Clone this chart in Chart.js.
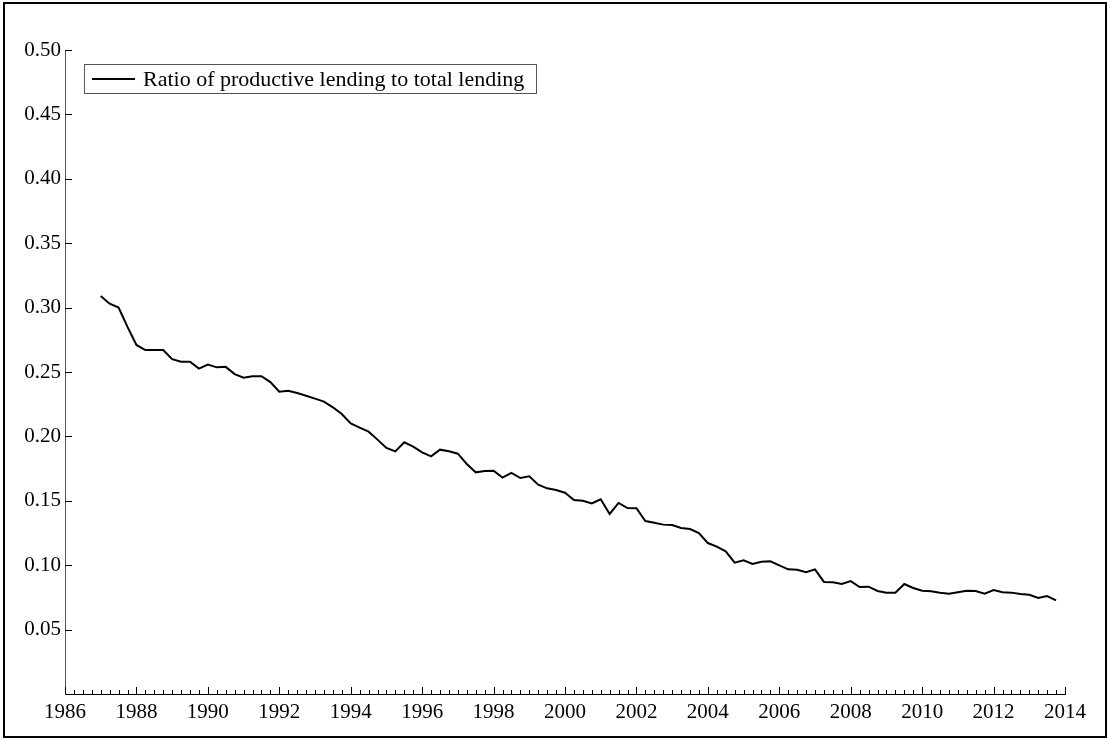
<!DOCTYPE html>
<html>
<head>
<meta charset="utf-8">
<title>Ratio of productive lending</title>
<script src="https://cdn.jsdelivr.net/npm/chart.js@4.4.1/dist/chart.umd.min.js"></script>
<style>
	html, body { margin: 0; padding: 0; background: #fff; }
	#wrap { width: 1110px; height: 740px; }
</style>
</head>
<body>
<div id="wrap"><canvas id="chart" width="1110" height="740"></canvas></div>
<script>
	// Quarterly series, first observation 1987 Q1
	var firstYear = 1987;
	var seriesLabel = 'Ratio of productive lending to total lending';
	var ratio = [
		0.309, 0.303, 0.300, 0.285, 0.271, 0.267, 0.267, 0.267, 0.260, 0.258, 0.258,
		0.2526, 0.2557, 0.2536, 0.254, 0.2484, 0.2456, 0.2467, 0.2467, 0.2422, 0.2347, 0.2355,
		0.2337, 0.2316, 0.2293, 0.2270, 0.2226, 0.2174, 0.2101, 0.2068, 0.2037, 0.1975, 0.1910,
		0.1884, 0.1954, 0.1920, 0.1876, 0.1845, 0.1897, 0.1884, 0.1866, 0.1786, 0.1721,
		0.1731, 0.1734, 0.1680, 0.1716, 0.1677, 0.1690, 0.1625, 0.1597, 0.1584, 0.1563, 0.1506,
		0.1501, 0.1480, 0.1512, 0.1398, 0.1483, 0.1444, 0.1442, 0.1343, 0.1330, 0.1315,
		0.1312, 0.1289, 0.1281, 0.1250, 0.1172, 0.1144, 0.1108, 0.1020, 0.1038, 0.1009, 0.1027,
		0.1030, 0.0999, 0.0968, 0.0965, 0.0945, 0.0968, 0.0870, 0.0867, 0.0854, 0.0877, 0.0831,
		0.0833, 0.0800, 0.0787, 0.0787, 0.0854, 0.0823, 0.0802, 0.0797, 0.0787, 0.0779, 0.0790,
		0.0802, 0.0800, 0.0779, 0.0807, 0.0790, 0.0787, 0.0776, 0.0771, 0.0745, 0.0761, 0.0727
	];
	var xTicks = [1986, 1988, 1990, 1992, 1994, 1996, 1998, 2000, 2002, 2004, 2006, 2008, 2010, 2012, 2014];
	var yTicks = [0.05, 0.10, 0.15, 0.20, 0.25, 0.30, 0.35, 0.40, 0.45, 0.50];

	var fontFamily = '"Liberation Serif", "Times New Roman", serif';

	var points = ratio.map(function(v, i) {
		return { x: firstYear + i / 4, y: v };
	});

	// white page and outer frame
	var framePlugin = {
		id: 'frame',
		beforeDraw: function(chart) {
			var ctx = chart.ctx;
			ctx.save();
			ctx.fillStyle = '#fff';
			ctx.fillRect(0, 0, chart.width, chart.height);
			ctx.restore();
		},
		afterDraw: function(chart) {
			var ctx = chart.ctx;
			ctx.save();
			ctx.strokeStyle = '#000';
			ctx.lineWidth = 2;
			ctx.strokeRect(4, 3, chart.width - 8, chart.height - 6);
			ctx.restore();
		}
	};

	// ticks point into the plot, with quarterly minor ticks on x
	var innerTicks = {
		id: 'innerTicks',
		afterDraw: function(chart) {
			var ctx = chart.ctx;
			var xs = chart.scales.x, ys = chart.scales.y, area = chart.chartArea;
			ctx.save();
			ctx.strokeStyle = '#000';
			ctx.lineWidth = 1;
			ctx.beginPath();
			for (var q = xs.min; q <= xs.max + 1e-9; q += 0.25) {
				var px = Math.round(xs.getPixelForValue(q)) + 0.5;
				var major = Math.abs(q / 2 - Math.round(q / 2)) < 1e-6;
				ctx.moveTo(px, area.bottom);
				ctx.lineTo(px, area.bottom - (major ? 7 : 4));
			}
			yTicks.forEach(function(v) {
				var py = Math.round(ys.getPixelForValue(v)) + 0.5;
				ctx.moveTo(area.left, py);
				ctx.lineTo(area.left + 7, py);
			});
			ctx.stroke();
			ctx.restore();
		}
	};

	// boxed legend in the upper left of the plot
	var boxLegend = {
		id: 'boxLegend',
		afterDraw: function(chart) {
			var ctx = chart.ctx, area = chart.chartArea;
			var ds = chart.data.datasets[0];
			ctx.save();
			ctx.font = '22px ' + fontFamily;
			var tw = ctx.measureText(ds.label).width;
			var left = area.left + 19, top = area.top + 14, h = 29;
			var w = 59 + tw + 12;
			ctx.strokeStyle = '#555';
			ctx.lineWidth = 1;
			ctx.strokeRect(Math.round(left) + 0.5, Math.round(top) + 0.5, Math.round(w), h);
			var mid = top + h / 2 + 0.5;
			ctx.strokeStyle = ds.borderColor;
			ctx.lineWidth = ds.borderWidth;
			ctx.beginPath();
			ctx.moveTo(left + 8, mid);
			ctx.lineTo(left + 51, mid);
			ctx.stroke();
			ctx.fillStyle = '#000';
			ctx.textBaseline = 'middle';
			ctx.fillText(ds.label, left + 59, mid + 1);
			ctx.restore();
		}
	};

	new Chart(document.getElementById('chart'), {
		type: 'line',
		data: {
			datasets: [{
				label: seriesLabel,
				data: points,
				borderColor: '#000',
				borderWidth: 2,
				pointRadius: 0,
				tension: 0,
				fill: false
			}]
		},
		options: {
			responsive: false,
			animation: false,
			devicePixelRatio: 1,
			layout: { padding: { top: 50, right: 45, bottom: 0, left: 0 } },
			plugins: {
				legend: { display: false },
				tooltip: { enabled: false }
			},
			scales: {
				x: {
					type: 'linear',
					min: 1986,
					max: 2014,
					afterBuildTicks: function(scale) {
						scale.ticks = xTicks.map(function(v) { return { value: v }; });
					},
					afterFit: function(scale) { scale.height = 46; },
					grid: { display: true, drawOnChartArea: false, drawTicks: false },
					border: { display: true, color: '#000', width: 1 },
					ticks: {
						autoSkip: false,
						maxRotation: 0,
						padding: 6,
						color: '#000',
						font: { family: fontFamily, size: 21 },
						callback: function(v) { return String(v); }
					}
				},
				y: {
					min: 0,
					max: 0.5,
					afterBuildTicks: function(scale) {
						scale.ticks = yTicks.map(function(v) { return { value: v }; });
					},
					afterFit: function(scale) { scale.width = 65; },
					grid: { display: true, drawOnChartArea: false, drawTicks: false },
					border: { display: true, color: '#555', width: 1 },
					ticks: {
						padding: 4,
						color: '#000',
						font: { family: fontFamily, size: 21 },
						callback: function(v) { return v.toFixed(2); }
					}
				}
			}
		},
		plugins: [framePlugin, innerTicks, boxLegend]
	});
</script>
</body>
</html>
